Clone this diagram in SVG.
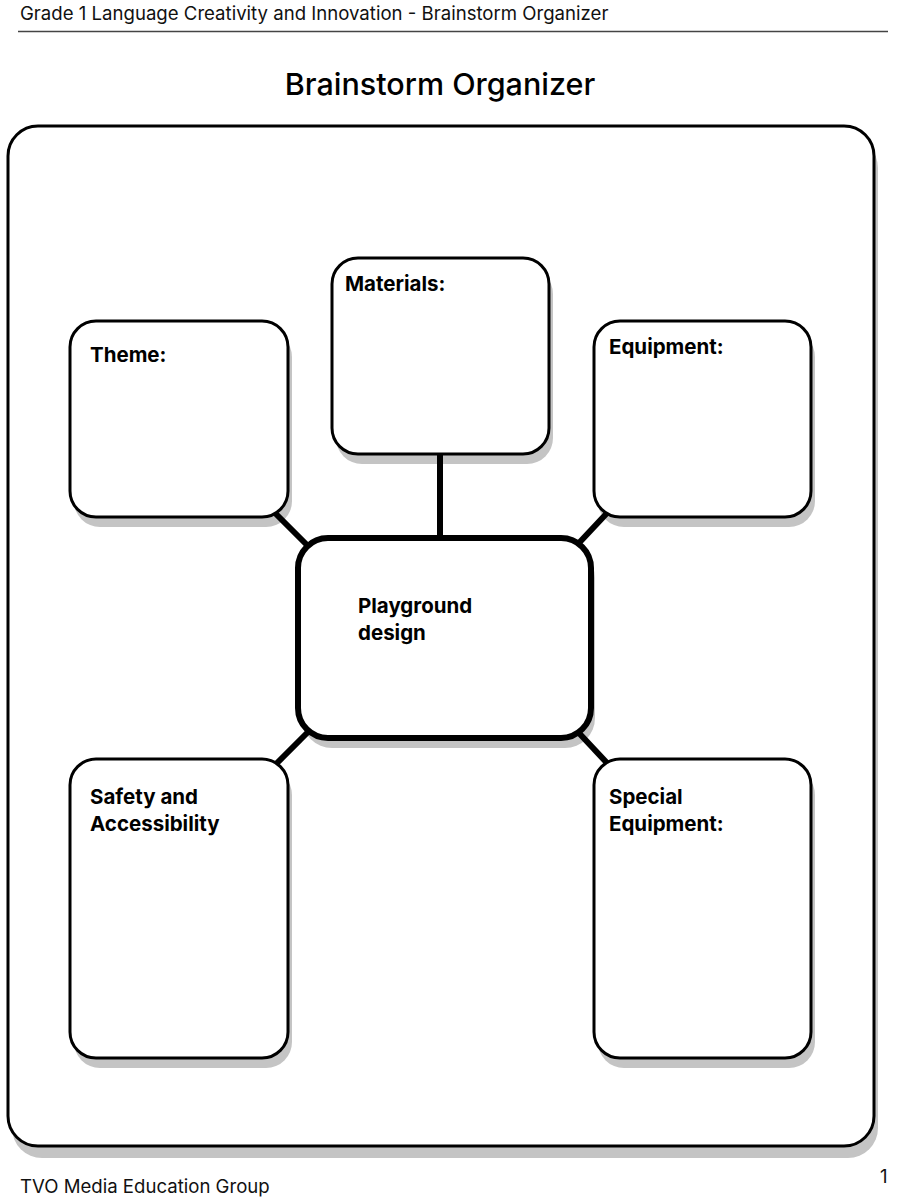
<svg xmlns="http://www.w3.org/2000/svg" width="907" height="1200" viewBox="0 0 907 1200">
<defs>
<style>
.hdr{font-family:Inter,"Noto Sans",sans-serif;font-size:18.6px;fill:#111}
.title{font-family:Inter,"Noto Sans",sans-serif;font-size:30.5px;font-weight:500;fill:#000}
.lbl{font-family:Inter,"Noto Sans",sans-serif;font-size:20.5px;font-weight:700;fill:#000}
.box{fill:#fff;stroke:#000;stroke-width:3}
.shadow{fill:#c4c4c4}
.conn{stroke:#000;stroke-width:6;fill:none}
</style>
</defs>
<rect width="907" height="1200" fill="#fff"/>
<text class="hdr" x="20" y="20">Grade 1 Language Creativity and Innovation - Brainstorm Organizer</text>
<line x1="18" y1="31.5" x2="888" y2="31.5" stroke="#444" stroke-width="1.5"/>
<text class="title" x="440" y="95" text-anchor="middle">Brainstorm Organizer</text>

<g id="frame">
<rect class="shadow" x="12" y="138" width="866" height="1020" rx="30"/>
<rect class="box" x="8" y="126" width="866" height="1020" rx="30"/>
</g>

<g id="shadows">
<rect class="shadow" x="74" y="331" width="218" height="196" rx="26"/>
<rect class="shadow" x="336" y="268" width="217" height="196" rx="26"/>
<rect class="shadow" x="598" y="331" width="217" height="196" rx="26"/>
<rect class="shadow" x="302" y="548" width="293" height="200" rx="30"/>
<rect class="shadow" x="74" y="769" width="218" height="299" rx="26"/>
<rect class="shadow" x="598" y="769" width="217" height="299" rx="26"/>
</g>

<g id="connectors">
<line class="conn" x1="440" y1="450" x2="440" y2="540"/>
<line class="conn" x1="274" y1="512" x2="310" y2="548"/>
<line class="conn" x1="608" y1="512" x2="578" y2="544"/>
<line class="conn" x1="310" y1="730" x2="274" y2="766"/>
<line class="conn" x1="578" y1="732" x2="608" y2="764"/>
</g>

<g id="theme">
<rect class="box" x="70" y="321" width="218" height="196" rx="26"/>
<text class="lbl" x="90" y="362">Theme:</text>
</g>
<g id="materials">
<rect class="box" x="332" y="258" width="217" height="196" rx="26"/>
<text class="lbl" x="345" y="291">Materials:</text>
</g>
<g id="equipment">
<rect class="box" x="594" y="321" width="217" height="196" rx="26"/>
<text class="lbl" x="609" y="354">Equipment:</text>
</g>
<g id="center">
<rect class="box" x="298" y="538" width="293" height="200" rx="30" style="stroke-width:6"/>
<text class="lbl" x="358" y="613">Playground</text>
<text class="lbl" x="358" y="640">design</text>
</g>
<g id="safety">
<rect class="box" x="70" y="759" width="218" height="299" rx="26"/>
<text class="lbl" x="90" y="804">Safety and</text>
<text class="lbl" x="90" y="831">Accessibility</text>
</g>
<g id="special">
<rect class="box" x="594" y="759" width="217" height="299" rx="26"/>
<text class="lbl" x="609" y="804">Special</text>
<text class="lbl" x="609" y="831">Equipment:</text>
</g>

<text class="hdr" x="20" y="1193">TVO Media Education Group</text>
<text class="hdr" x="880" y="1183">1</text>
</svg>
